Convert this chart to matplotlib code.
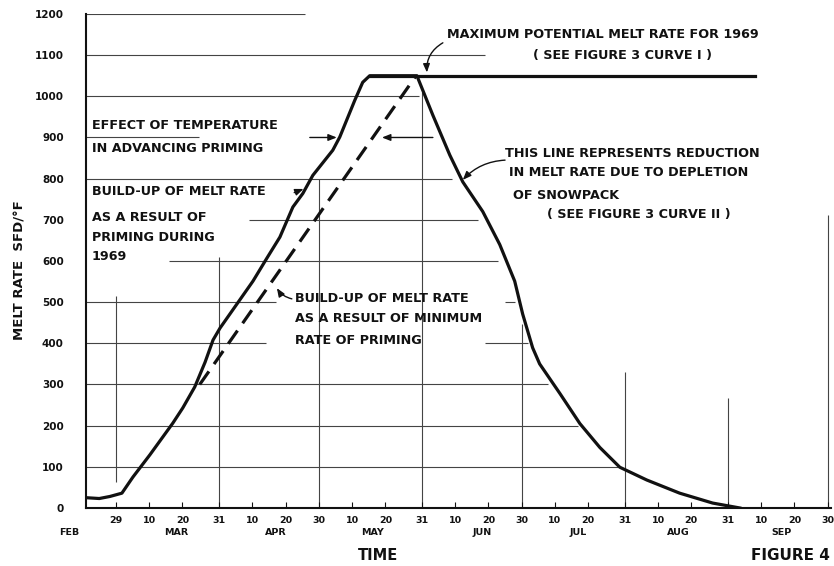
import matplotlib
matplotlib.use("Agg")
import matplotlib.pyplot as plt

# x = days counted from Feb 29
days_solid = [-9, -5, -1.8, 1.8, 5.1, 10.2, 17.1, 20.1, 23.7, 26.8, 29.2, 31.3, 41.2, 45.4,
              49.3, 53.2, 56.2, 59.2, 65.2, 67.3, 71.8, 74.2, 76.3, 90.5, 95.3, 100.4,
              104.3, 110.3, 115.4, 119.9, 122.3, 125.3, 127.4, 133.5, 139.5, 145.5,
              151.5, 159.6, 169.5, 179.4, 187.6]
melt_solid = [25, 23, 28, 36, 75, 129, 206, 243, 294, 354, 408, 437, 551, 607,
              658, 731, 764, 808, 869, 901, 990, 1034, 1050, 1050, 954, 857,
              792, 720, 640, 551, 471, 389, 350, 278, 205, 147,
              99, 68, 36, 12, 0]

days_max = [76.3, 192.1]
melt_max = [1050, 1050]

days_min = [25.2, 89.9]
melt_min = [300, 1046]

tick_days = [0, 10, 20, 31, 41, 51, 61, 71, 81, 92, 102, 112, 122, 132, 142, 153,
             163, 173, 184, 194, 204, 214]
tick_labels = ["29", "10", "20", "31", "10", "20", "30", "10", "20", "31", "10", "20",
               "30", "10", "20", "31", "10", "20", "31", "10", "20", "30"]
months = ["FEB", "MAR", "APR", "MAY", "JUN", "JUL", "AUG", "SEP"]
month_pos = [-14, 18, 48, 77, 110, 139, 169, 200]
y_ticks = list(range(0, 1300, 100))

# partial graph-paper lines (value, start, end)
hgrid = [(100, -9, 151), (200, -9, 139), (300, -9, 130), (400, -9, 45), (400, 111, 124),
         (500, -9, 48), (500, 117, 120), (600, 16, 115), (700, 40, 109), (800, -9, 101),
         (900, -9, 25), (1000, -9, 91), (1100, -9, 111), (1200, -9, 57)]
vgrid = [(0, 63, 514), (31, 0, 610), (61, 0, 800), (92, 0, 1010), (122, 0, 447),
         (153, 0, 330), (184, 0, 268), (214, 0, 712)]

plt.rcParams['font.family'] = 'DejaVu Sans'
plt.rcParams['font.weight'] = 'bold'
ink = '#111111'

fig = plt.figure(figsize=(8.34, 5.66), dpi=100)
ax = fig.add_axes([0.1031, 0.1025, 0.8933, 0.8728])

for v, a, b in hgrid:
    ax.hlines(v, a, b, color='#444444', lw=0.8, zorder=1)
for d, a, b in vgrid:
    ax.vlines(d, a, b, color='#444444', lw=0.8, zorder=1)

ax.plot(days_solid, melt_solid, color=ink, lw=2.3, solid_joinstyle='round', zorder=3)
ax.plot(days_max, melt_max, color=ink, lw=2.3, zorder=3)
ax.plot(days_min, melt_min, color=ink, lw=2.3, linestyle=(0, (5, 2.8)), zorder=3)

ax.set_xlim(-9, 215)
ax.set_ylim(0, 1200)
for s in ['top', 'right']:
    ax.spines[s].set_visible(False)
for s in ['left', 'bottom']:
    ax.spines[s].set_linewidth(1.5)
    ax.spines[s].set_color(ink)

ax.set_yticks(y_ticks)
ax.set_yticklabels([str(v) for v in y_ticks], fontsize=7.5, fontweight='bold', color=ink)
ax.tick_params(axis='y', length=0, pad=16)
ax.set_xticks(tick_days)
ax.set_xticklabels(tick_labels, fontsize=6.8, fontweight='bold', color=ink)
ax.tick_params(axis='x', direction='in', length=4, width=0.8, pad=6, colors=ink)

for m, p in zip(months, month_pos):
    ax.text(p, -0.05, m, transform=ax.get_xaxis_transform(), ha='center', va='center',
            fontsize=6.8, fontweight='bold', color=ink, clip_on=False)

fig.text(20 / 834, 1 - 270 / 566, "MELT RATE  SFD/°F", rotation=90, ha='center', va='center',
         fontsize=9.5, fontweight='bold', color=ink)
fig.text(378 / 834, 1 - 555 / 566, "TIME", ha='center', va='center', fontsize=10.5,
         fontweight='bold', color=ink)
fig.text(830 / 834, 1 - 556 / 566, "FIGURE 4", ha='right', va='center', fontsize=11,
         fontweight='bold', color=ink)

fs = 9.2
tk = dict(fontsize=fs, fontweight='bold', color=ink, va='center', clip_on=False)
ax.text(99.5, 1151, "MAXIMUM POTENTIAL MELT RATE FOR 1969", ha='left', **tk)
ax.text(152.4, 1100, "( SEE FIGURE 3 CURVE I )", ha='center', **tk)
ax.text(-7.2, 928, "EFFECT OF TEMPERATURE", ha='left', **tk)
ax.text(-7.2, 874, "IN ADVANCING PRIMING", ha='left', **tk)
ax.text(-7.2, 768, "BUILD-UP OF MELT RATE", ha='left', **tk)
ax.text(-7.2, 706, "AS A RESULT OF", ha='left', **tk)
ax.text(-7.2, 658, "PRIMING DURING", ha='left', **tk)
ax.text(-7.2, 612, "1969", ha='left', **tk)
ax.text(53.8, 510, "BUILD-UP OF MELT RATE", ha='left', **tk)
ax.text(53.8, 461, "AS A RESULT OF MINIMUM", ha='left', **tk)
ax.text(53.8, 408, "RATE OF PRIMING", ha='left', **tk)
ax.text(117, 862, "THIS LINE REPRESENTS REDUCTION", ha='left', **tk)
ax.text(118.1, 814, "IN MELT RATE DUE TO DEPLETION", ha='left', **tk)
ax.text(119.3, 760, "OF SNOWPACK", ha='left', **tk)
ax.text(129.5, 714, "( SEE FIGURE 3 CURVE II )", ha='left', **tk)

arr = dict(arrowstyle='-|>,head_length=0.5,head_width=0.2', color=ink, lw=1.0,
           shrinkA=0, shrinkB=0)
ax.annotate("", xy=(93.5, 1058), xytext=(98.3, 1130),
            arrowprops=dict(connectionstyle='arc3,rad=0.3', **arr))
ax.annotate("", xy=(66.4, 900), xytext=(58.3, 900), arrowprops=arr)
ax.annotate("", xy=(80.0, 900), xytext=(95.3, 900), arrowprops=arr)
ax.annotate("", xy=(56.4, 775), xytext=(53.6, 766), arrowprops=arr)
ax.annotate("", xy=(48.4, 534), xytext=(52.9, 508),
            arrowprops=dict(connectionstyle='arc3,rad=-0.2', **arr))
ax.annotate("", xy=(104.3, 797), xytext=(117, 845),
            arrowprops=dict(connectionstyle='arc3,rad=0.2', **arr))

plt.savefig('out.png', dpi=100)
